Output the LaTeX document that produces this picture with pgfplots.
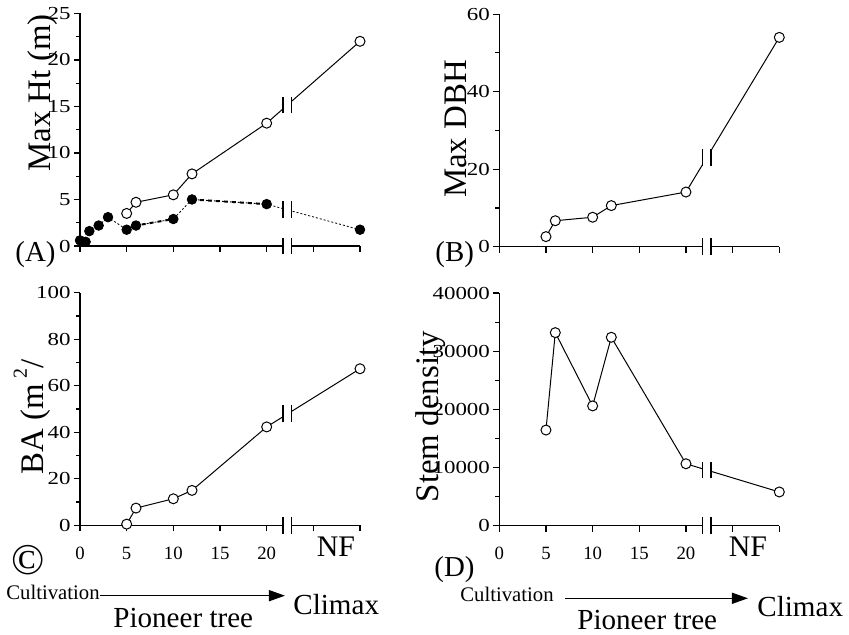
\documentclass[border=0pt]{standalone}
\usepackage{fontspec}
\setmainfont{Liberation Serif}
\newfontfamily\ytickfont[FakeStretch=1.25]{Liberation Serif}
\usepackage{pgfplots}
\pgfplotsset{compat=1.18}
\usetikzlibrary{arrows.meta}

\pgfplotstableread{
x y
5 3.5
6 4.7
10 5.5
12 7.75
20 13.2
30 22.0
}\htopen
\pgfplotstableread{
x y
0 0.6
0.6 0.45
1 1.6
2 2.2
3 3.1
5 1.75
6 2.2
10 2.9
12 5.0
20 4.5
30 1.75
}\htfilled
\pgfplotstableread{
x y
5 2.6
6 6.7
10 7.6
12 10.6
20 14.1
30 54.0
}\dbh
\pgfplotstableread{
x y
5 0.5
6 7.4
10 11.4
12 15.0
20 42.3
30 67.3
}\ba
\pgfplotstableread{
x y
5 16450
6 33200
10 20600
12 32400
20 10650
30 5800
}\stem

\newcommand{\brk}[2]{%
 \fill[white] ([xshift=-2.1bp,yshift=-4.2bp]axis cs:#1,#2) rectangle ([xshift=2.1bp,yshift=4.2bp]axis cs:#1,#2);
 \draw[line width=0.8pt] ([xshift=-2.1bp,yshift=-4.2bp]axis cs:#1,#2) -- ([xshift=-2.1bp,yshift=4.2bp]axis cs:#1,#2);
 \draw[line width=0.8pt] ([xshift=2.1bp,yshift=-4.2bp]axis cs:#1,#2) -- ([xshift=2.1bp,yshift=4.2bp]axis cs:#1,#2);}
\newcommand{\xlab}[1]{\node[anchor=north, inner sep=0pt, font=\fontsize{9.4}{10}\selectfont] at ([yshift=-10.7bp]axis cs:#1,0) {#1};}

\pgfplotsset{
 panel/.style={
  scale only axis, width=140bp, height=116.3bp,
  axis lines=left, axis line style={-, line width=0.7pt},
  tick align=outside, tick style={line width=0.6pt, black},
  major tick length=3bp, minor tick length=2bp,
  xmin=0, xmax=30, ymin=0,
  xtick={0,5,10,15,20,25,30}, xticklabels={},
  minor y tick num=1,
  clip=false,
  scaled y ticks=false,
  /pgf/number format/assume math mode=true,
  /pgf/number format/1000 sep={},
  yticklabel={\ytickfont\fontsize{9.2}{10}\selectfont\pgfmathprintnumber{\tick}},
  yticklabel style={inner sep=0pt, xshift=-1.5bp},
 },
 openline/.style={black, line width=0.5pt, mark=*, mark size=2.5bp, mark options={fill=white, line width=0.5pt}},
}

\begin{document}
\begin{tikzpicture}
\path[use as bounding box] (0,0) rectangle (424.5bp,317.5bp);

% (A)
\begin{axis}[panel, at={(40bp,194.5bp)}, anchor=south west, ymax=25, ytick={0,5,...,25}]
\addplot[black, line width=0.4pt, dash pattern=on 1bp off 1bp] table {\htfilled};
\addplot[black, line width=1pt, dash pattern=on 2bp off 2bp, restrict x to domain=5:10] table {\htfilled};
\addplot[black, line width=1pt, dash pattern=on 2bp off 2bp, restrict x to domain=12:20] table {\htfilled};
\addplot[openline] table {\htopen};
\addplot[only marks, mark=*, mark size=2.4bp, black] table {\htfilled};
\brk{22.23}{15.16}
\brk{22.23}{3.89}
\brk{22.23}{0}
\end{axis}

% (B)
\begin{axis}[panel, at={(249.65bp,194.15bp)}, anchor=south west, ymax=60, ytick={0,20,40,60}]
\addplot[openline] table {\dbh};
\brk{22.23}{23.0}
\brk{22.23}{0}
\end{axis}

% (C)
\begin{axis}[panel, at={(40bp,54.85bp)}, anchor=south west, ymax=100, ytick={0,20,...,100}]
\addplot[openline] table {\ba};
\brk{22.23}{47.9}
\brk{22.23}{0}
\xlab{0}\xlab{5}\xlab{10}\xlab{15}\xlab{20}
\end{axis}

% (D)
\begin{axis}[panel, at={(249.65bp,54.65bp)}, anchor=south west, ymax=40000, ytick={0,10000,...,40000}]
\addplot[openline] table {\stem};
\brk{22.23}{9570}
\brk{22.23}{0}
\xlab{0}\xlab{5}\xlab{10}\xlab{15}\xlab{20}
\end{axis}

\begin{scope}[x=0.5bp, y=-0.5bp, yshift=317.5bp]
\tikzset{ylab/.style={rotate=90, anchor=base, inner sep=0pt, font=\fontsize{16.5}{18}\selectfont},
         plab/.style={anchor=base west, inner sep=0pt, font=\fontsize{14.5}{16}\selectfont},
         big/.style={anchor=base west, inner sep=0pt, font=\fontsize{14.6}{16}\selectfont},
         small/.style={anchor=base west, inner sep=0pt, font=\fontsize{10.4}{12}\selectfont}}
\node[ylab] at (50,93) {Max Ht (m)};
\node[ylab] at (466.7,129) {Max DBH};
\node[ylab] at (43.3,417) {BA (m\,\raisebox{0.5em}{\fontsize{10}{11}\selectfont 2}/};
\node[ylab] at (438.3,416.7) {Stem density};

\node[plab] at (15,261.7) {(A)};
\node[plab] at (435,262) {(B)};
\node[anchor=center, inner sep=0pt, font=\fontsize{22}{24}\selectfont] at (28,559.7) {\textcopyright};
\node[plab] at (434,576.6) {(D)};

\node[anchor=center, inner sep=0pt, font=\fontsize{15}{16}\selectfont] at (336,547) {NF};
\node[anchor=center, inner sep=0pt, font=\fontsize{15}{16}\selectfont] at (748,547) {NF};

\node[small] at (6,600) {Cultivation};
\draw[line width=0.7pt, -{Triangle[length=8bp,width=5.5bp]}] (100,595.7) -- (285,595.7);
\node[big] at (293,615) {Climax};
\node[big] at (113,628) {Pioneer tree};

\node[small] at (460,601.7) {Cultivation};
\draw[line width=0.7pt, -{Triangle[length=8bp,width=5.5bp]}] (565,598.3) -- (748,598.3);
\node[big] at (757,616.7) {Climax};
\node[big] at (577,630) {Pioneer tree};
\end{scope}
\end{tikzpicture}
\end{document}
